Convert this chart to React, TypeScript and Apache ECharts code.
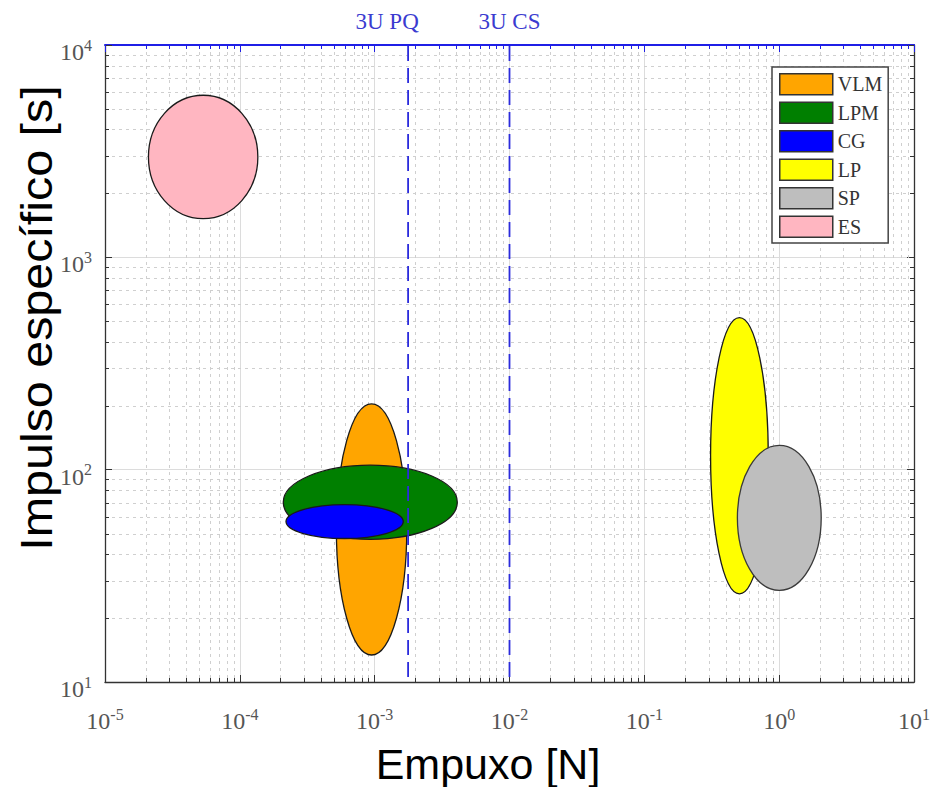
import { useEffect, useRef } from "react";
import * as echarts from "echarts";

// Propulsion technologies: thrust range [N] and specific impulse range [s]
const categories = ["VLM", "LPM", "CG", "LP", "SP", "ES"];
const thrustLow = [5.2e-4, 2.1e-4, 2.2e-4, 0.31, 0.49, 2.1e-5];
const thrustHigh = [1.73e-3, 4.1e-3, 1.63e-3, 0.83, 2.05, 1.36e-4];
const ispLow = [13.4, 47, 47.4, 26, 27, 1520];
const ispHigh = [204, 105, 68.5, 520, 130, 5800];
const fillColors = ["#FFA500", "#007F00", "#0000FF", "#FFFF00", "#BEBEBE", "#FFB6C1"];

// CubeSat reference thrust levels
const refNames = ["3U PQ", "3U CS"];
const refThrust = [1.77e-3, 1e-2];

// Axis ranges and minor tick positions
const xMin = 1e-5;
const xMax = 10;
const yMin = 10;
const yMax = 1e4;
const xDecades = [1e-5, 1e-4, 1e-3, 1e-2, 1e-1, 1];
const yDecades = [10, 100, 1000];
const minorMultipliers = [2, 3, 4, 5, 6, 7, 8, 9];

const serif = "Liberation Serif";
const sans = "Liberation Sans";
const axisColor = "#333";
const topBlue = "#1f1fe6";
const refBlue = "#2b2bdc";

const expLabel = (v: number) => `{b|10}{e|${Math.round(Math.log10(v))}}`;
const labelRich = {
  b: { fontSize: 24, fontFamily: serif, color: "#555" },
  e: { fontSize: 16, fontFamily: serif, color: "#555", verticalAlign: "bottom", padding: [0, 0, 14, 0] },
};

export default function App() {
  const ref = useRef<HTMLDivElement>(null);

  useEffect(() => {
    if (!ref.current) return;
    const chart = echarts.init(ref.current, undefined, { renderer: "svg" });

    const minorX: number[][] = [];
    xDecades.forEach((d) => minorMultipliers.forEach((m) => minorX.push([m * d, yMin])));
    const minorY: number[][] = [];
    yDecades.forEach((d) => minorMultipliers.forEach((m) => minorY.push([xMin, m * d])));

    const crisp = (v: number) => Math.round(v) + 0.5;

    const ellipseSeries = categories.map((name, i) => ({
      type: "custom",
      name,
      xAxisIndex: 0,
      yAxisIndex: 0,
      z: 3,
      silent: true,
      itemStyle: { color: fillColors[i], borderColor: "#222", borderWidth: 1 },
      encode: { x: [0, 1], y: [2, 3] },
      data: [[thrustLow[i], thrustHigh[i], ispLow[i], ispHigh[i]]],
      renderItem: (_p: any, api: any) => {
        const a = api.coord([api.value(0), api.value(2)]);
        const b = api.coord([api.value(1), api.value(3)]);
        return {
          type: "ellipse",
          shape: {
            cx: (a[0] + b[0]) / 2,
            cy: (a[1] + b[1]) / 2,
            rx: Math.abs(b[0] - a[0]) / 2,
            ry: Math.abs(b[1] - a[1]) / 2,
          },
          style: { fill: fillColors[i], stroke: i === 4 ? "#3a3a3a" : "#1a1a1a", lineWidth: 1.3 },
        };
      },
    }));

    const tickLabel = { formatter: expLabel, rich: labelRich, fontSize: 24, fontFamily: serif, color: "#555" };

    chart.setOption({
      animation: false,
      backgroundColor: "#fff",
      grid: { left: 105, right: 17, top: 45, bottom: 105, containLabel: false, outerBoundsMode: "none" },
      xAxis: [
        {
          type: "log",
          logBase: 10,
          min: xMin,
          max: xMax,
          splitNumber: 6,
          position: "bottom",
          axisLine: { lineStyle: { color: axisColor, width: 1.3 } },
          axisTick: { inside: true, length: 7, lineStyle: { color: axisColor } },
          axisLabel: { ...tickLabel, margin: 24 },
          splitLine: { show: true, lineStyle: { color: "#dcdcdc", width: 1 } },
        },
        {
          type: "log",
          logBase: 10,
          min: xMin,
          max: xMax,
          splitNumber: 6,
          position: "top",
          axisLine: { lineStyle: { color: topBlue, width: 2 } },
          axisTick: { inside: true, length: 7, lineStyle: { color: topBlue } },
          axisLabel: { show: false },
          splitLine: { show: false },
        },
      ],
      yAxis: [
        {
          type: "log",
          logBase: 10,
          min: yMin,
          max: yMax,
          splitNumber: 3,
          position: "left",
          axisLine: { lineStyle: { color: axisColor, width: 1.3 } },
          axisTick: { inside: true, length: 7, lineStyle: { color: axisColor } },
          axisLabel: { ...tickLabel, margin: 13, padding: [14, 0, 0, 0] },
          splitLine: { show: true, lineStyle: { color: "#dcdcdc", width: 1 } },
        },
        {
          type: "log",
          logBase: 10,
          min: yMin,
          max: yMax,
          splitNumber: 3,
          position: "right",
          axisLine: { lineStyle: { color: axisColor, width: 1.3 } },
          axisTick: { inside: true, length: 7, lineStyle: { color: axisColor } },
          axisLabel: { show: false },
          splitLine: { show: false },
        },
      ],
      legend: {
        data: categories,
        orient: "vertical",
        left: 772,
        top: 67,
        icon: "rect",
        itemWidth: 53,
        itemHeight: 21,
        itemGap: 6,
        padding: [6, 6, 5, 7],
        backgroundColor: "#fff",
        borderColor: "#444",
        borderWidth: 1.5,
        itemStyle: { borderColor: "#333", borderWidth: 1.5 },
        textStyle: { fontFamily: serif, fontSize: 20, color: "#333" },
        selectedMode: false,
      },
      graphic: [
        {
          type: "text",
          x: 488,
          y: 764,
          style: { text: "Empuxo [N]", font: `43px '${sans}'`, fill: "#000", align: "center", verticalAlign: "middle" },
        },
        {
          type: "text",
          x: 37,
          y: 318,
          rotation: Math.PI / 2,
          scaleX: 1.1,
          style: {
            text: "Impulso específico [s]",
            font: `44px '${sans}'`,
            fill: "#000",
            align: "center",
            verticalAlign: "middle",
          },
        },
      ],
      series: [
        {
          type: "custom",
          name: "minorX",
          xAxisIndex: 0,
          yAxisIndex: 0,
          z: 1,
          silent: true,
          data: minorX,
          renderItem: (p: any, api: any) => {
            const cs = p.coordSys;
            const x = crisp(api.coord([api.value(0), api.value(1)])[0]);
            const y0 = cs.y;
            const y1 = cs.y + cs.height;
            return {
              type: "group",
              children: [
                { type: "line", shape: { x1: x, y1: y0, x2: x, y2: y1 }, style: { stroke: "#cfcfcf", lineWidth: 1, lineDash: [3, 4] } },
                { type: "line", shape: { x1: x, y1: y1, x2: x, y2: y1 - 4 }, style: { stroke: axisColor, lineWidth: 1 } },
                { type: "line", shape: { x1: x, y1: y0, x2: x, y2: y0 + 4 }, style: { stroke: topBlue, lineWidth: 1 } },
              ],
            };
          },
        },
        {
          type: "custom",
          name: "minorY",
          xAxisIndex: 0,
          yAxisIndex: 0,
          z: 1,
          silent: true,
          data: minorY,
          renderItem: (p: any, api: any) => {
            const cs = p.coordSys;
            const y = crisp(api.coord([api.value(0), api.value(1)])[1]);
            const x0 = cs.x;
            const x1 = cs.x + cs.width;
            return {
              type: "group",
              children: [
                { type: "line", shape: { x1: x0, y1: y, x2: x1, y2: y }, style: { stroke: "#cfcfcf", lineWidth: 1, lineDash: [3, 4] } },
                { type: "line", shape: { x1: x0, y1: y, x2: x0 + 4, y2: y }, style: { stroke: axisColor, lineWidth: 1 } },
                { type: "line", shape: { x1: x1, y1: y, x2: x1 - 4, y2: y }, style: { stroke: axisColor, lineWidth: 1 } },
              ],
            };
          },
        },
        ...ellipseSeries,
        {
          // dashed vertical reference lines with their names above the frame
          type: "custom",
          name: "refs",
          xAxisIndex: 0,
          yAxisIndex: 0,
          z: 5,
          silent: true,
          clip: false,
          data: refThrust.map((v) => [v, yMin]),
          renderItem: (p: any, api: any) => {
            const cs = p.coordSys;
            const x = api.coord([api.value(0), api.value(1)])[0];
            const idx = p.dataIndex;
            return {
              type: "group",
              children: [
                {
                  type: "line",
                  shape: { x1: x, y1: cs.y + 1, x2: x, y2: cs.y + cs.height },
                  style: { stroke: refBlue, lineWidth: 1.8, lineDash: [15, 7] },
                },
                {
                  type: "text",
                  x: x + (idx === 0 ? -21 : 0),
                  y: cs.y - 24,
                  style: {
                    text: refNames[idx],
                    font: `23px '${serif}'`,
                    fill: "#3b3bd0",
                    align: "center",
                    verticalAlign: "middle",
                  },
                },
              ],
            };
          },
        },
      ],
    });

    return () => chart.dispose();
  }, []);

  return <div ref={ref} style={{ position: "fixed", left: 0, top: 0, width: 931, height: 787 }} />;
}
